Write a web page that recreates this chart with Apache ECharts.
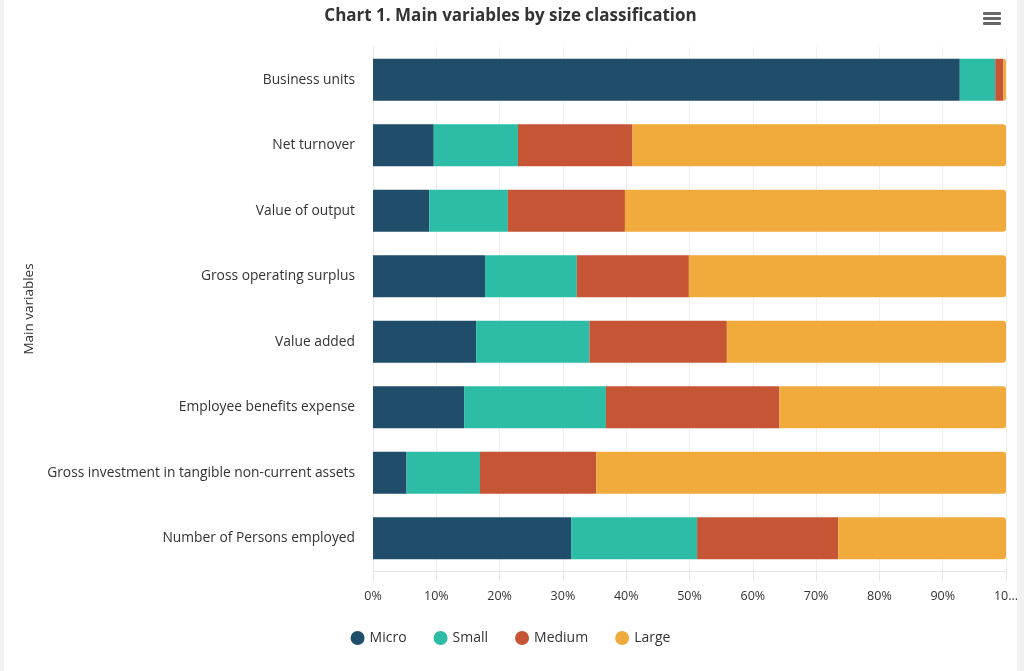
<!DOCTYPE html>
<html>
<head>
<meta charset="utf-8">
<script src="https://cdn.jsdelivr.net/npm/echarts@6/dist/echarts.min.js"></script>
<style>
html,body{margin:0;padding:0;background:#f2f2f2;width:1024px;height:671px;overflow:hidden;}
#chart{position:absolute;left:4px;top:0;width:1013px;height:671px;background:#ffffff;}
</style>
</head>
<body>
<div id="chart"></div>
<script>
const categories = [
  'Business units',
  'Net turnover',
  'Value of output',
  'Gross operating surplus',
  'Value added',
  'Employee benefits expense',
  'Gross investment in tangible non-current assets',
  'Number of Persons employed'
];
const micro  = [92.7, 9.6, 8.9, 17.7, 16.3, 14.4, 5.3, 31.3];
const small  = [5.6, 13.3, 12.4, 14.5, 17.9, 22.4, 11.6, 19.9];
const medium = [1.3, 18.1, 18.5, 17.7, 21.7, 27.4, 18.4, 22.3];
const large  = [0.4, 59.0, 60.2, 50.1, 44.1, 35.8, 64.7, 26.5];
const seriesNames = ['Micro', 'Small', 'Medium', 'Large'];
const colors = ['#204d6a', '#2dbca6', '#c55534', '#f1aa3c'];
const xTicks = [0,10,20,30,40,50,60,70,80,90,100];

const FONT = '"Open Sans", "Noto Sans", sans-serif';
const chart = echarts.init(document.getElementById('chart'));
const values = [micro, small, medium, large];

chart.setOption({
  animation: false,
  color: colors,
  title: {
    text: 'Chart 1. Main variables by size classification',
    left: 'center',
    top: 3,
    textStyle: {fontFamily: FONT, fontSize: 17, fontWeight: 'bold', color: '#333333'}
  },
  graphic: [
    {type: 'rect', shape: {x: 979, y: 12, width: 18, height: 3, r: 1}, style: {fill: '#666666'}},
    {type: 'rect', shape: {x: 979, y: 17, width: 18, height: 3, r: 1}, style: {fill: '#666666'}},
    {type: 'rect', shape: {x: 979, y: 22, width: 18, height: 3, r: 1}, style: {fill: '#666666'}}
  ],
  legend: {
    data: seriesNames,
    bottom: 21,
    left: 'center',
    icon: 'circle',
    itemWidth: 14,
    itemHeight: 14,
    itemGap: 27,
    textStyle: {fontFamily: FONT, fontSize: 14, color: '#333333'}
  },
  grid: {left: 369, right: 11, top: 47, bottom: 100, containLabel: false, outerBoundsMode: 'none'},
  xAxis: {
    type: 'value',
    min: 0, max: 100, interval: 10,
    axisLine: {show: true, lineStyle: {color: '#e6e6e6'}},
    axisTick: {show: true, length: 10, lineStyle: {color: '#e6e6e6'}},
    splitLine: {show: true, lineStyle: {color: '#efefef'}},
    axisLabel: {
      margin: 19,
      fontFamily: FONT, fontSize: 12.5, color: '#333333',
      formatter: v => (v === 100 ? '10...' : v + '%')
    }
  },
  yAxis: {
    type: 'category',
    data: categories,
    inverse: true,
    name: 'Main variables',
    nameLocation: 'middle',
    nameGap: 329,
    nameRotate: 90,
    nameTextStyle: {fontFamily: FONT, fontSize: 13.5, color: '#333333'},
    axisLine: {show: true, lineStyle: {color: '#e6e6e6'}},
    axisTick: {show: false},
    axisLabel: {margin: 18, fontFamily: FONT, fontSize: 13.8, color: '#333333'}
  },
  series: seriesNames.map((name, i) => ({
    name: name,
    type: 'bar',
    stack: 'total',
    barCategoryGap: '36%',
    data: values[i],
    itemStyle: {
      color: colors[i],
      borderRadius: i === 3 ? [0, 3, 3, 0] : 0
    }
  }))
});
</script>
</body>
</html>
